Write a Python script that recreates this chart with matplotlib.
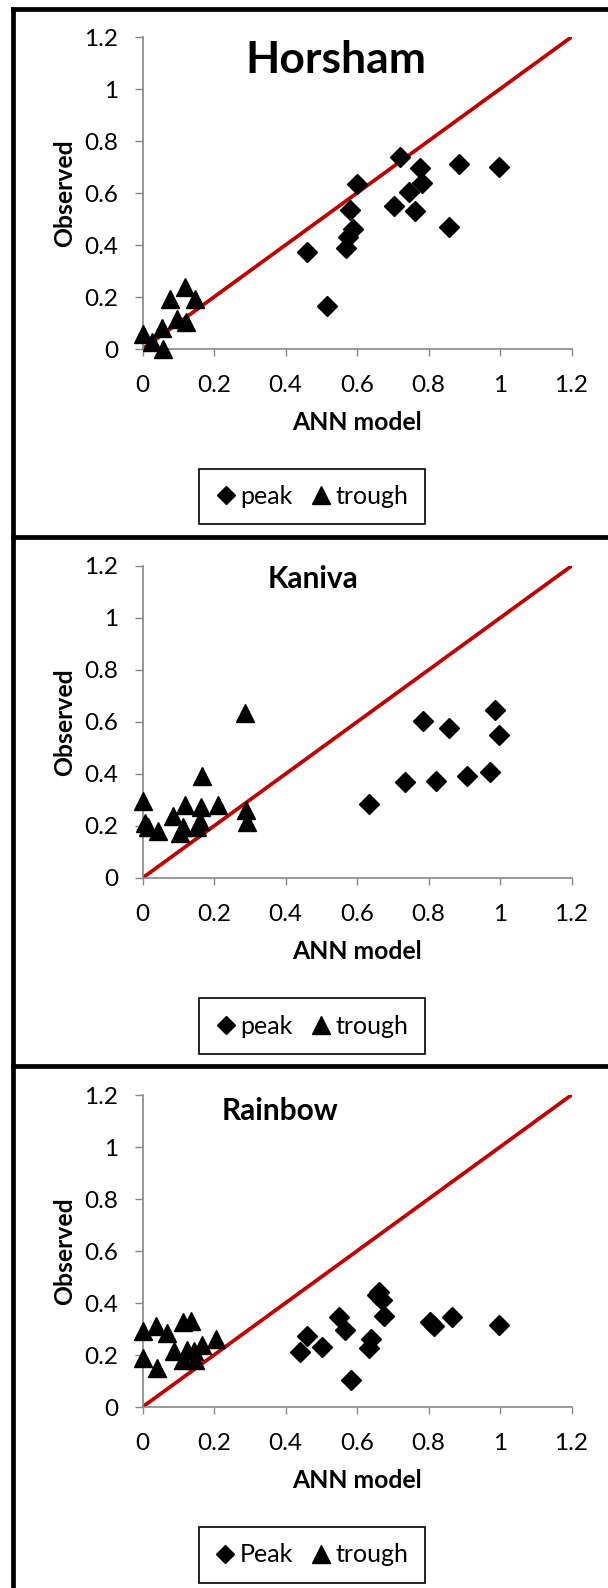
import matplotlib.pyplot as plt
from matplotlib.lines import Line2D

plt.rcParams['font.family'] = ['Lato', 'DejaVu Sans']

# Horsham
horsham_peak_x = [0.461, 0.517, 0.601, 0.580, 0.590, 0.576, 0.568, 0.720,
                  0.776, 0.781, 0.745, 0.704, 0.763, 0.884, 0.998, 0.858]
horsham_peak_y = [0.375, 0.164, 0.634, 0.534, 0.461, 0.432, 0.389, 0.738,
                  0.697, 0.640, 0.604, 0.551, 0.530, 0.710, 0.700, 0.468]
horsham_trough_x = [0.0, 0.026, 0.058, 0.054, 0.077, 0.119, 0.147, 0.097, 0.123]
horsham_trough_y = [0.058, 0.028, 0.0, 0.079, 0.194, 0.238, 0.194, 0.114, 0.105]

# Kaniva
kaniva_peak_x = [0.634, 0.734, 0.821, 0.909, 0.972, 0.784, 0.858, 0.998, 0.987]
kaniva_peak_y = [0.286, 0.370, 0.375, 0.391, 0.409, 0.605, 0.577, 0.551, 0.647]
kaniva_trough_x = [0.287, 0.167, 0.0, 0.007, 0.016, 0.044, 0.086, 0.119,
                   0.105, 0.114, 0.164, 0.161, 0.152, 0.212, 0.289, 0.291]
kaniva_trough_y = [0.636, 0.392, 0.295, 0.211, 0.198, 0.179, 0.237, 0.282,
                   0.173, 0.198, 0.274, 0.218, 0.198, 0.279, 0.263, 0.216]

# Rainbow
rainbow_peak_x = [0.441, 0.461, 0.503, 0.550, 0.566, 0.584, 0.639, 0.634,
                  0.662, 0.656, 0.676, 0.804, 0.816, 0.867, 0.998, 0.671]
rainbow_peak_y = [0.211, 0.274, 0.230, 0.346, 0.297, 0.104, 0.261, 0.227,
                  0.441, 0.430, 0.351, 0.326, 0.313, 0.346, 0.317, 0.413]
rainbow_trough_x = [0.002, 0.037, 0.068, 0.114, 0.135, 0.002, 0.041,
                    0.089, 0.114, 0.166, 0.205, 0.147, 0.124, 0.145]
rainbow_trough_y = [0.291, 0.310, 0.285, 0.326, 0.329, 0.188, 0.149,
                    0.214, 0.181, 0.239, 0.261, 0.181, 0.220, 0.214]

sites = ['Horsham', 'Kaniva', 'Rainbow']
peak_labels = ['peak', 'peak', 'Peak']
line_xy = [0, 1.2]
ticks = [0, 0.2, 0.4, 0.6, 0.8, 1, 1.2]
tick_labels = ['0', '0.2', '0.4', '0.6', '0.8', '1', '1.2']

peaks = [(horsham_peak_x, horsham_peak_y), (kaniva_peak_x, kaniva_peak_y),
         (rainbow_peak_x, rainbow_peak_y)]
troughs = [(horsham_trough_x, horsham_trough_y), (kaniva_trough_x, kaniva_trough_y),
           (rainbow_trough_x, rainbow_trough_y)]

W, H = 608, 1588
fig = plt.figure(figsize=(W / 100, H / 100), dpi=100)

# panel layout in pixels (axes top, title x/baseline, title size, legend centre y)
axes_top = [37, 566, 1095]
title_x = [336, 313.5, 280]
title_base = [72.7, 587.7, 1119.7]
title_size = [32, 21.5, 21.5]
legend_y = [496.5, 1026.2, 1554.8]

ax_left, ax_w, ax_h = 142.5, 429, 312
grey = '#868686'

for i in range(3):
    top = axes_top[i]
    ax = fig.add_axes([ax_left / W, 1 - (top + ax_h) / H, ax_w / W, ax_h / H])
    ax.plot(line_xy, line_xy, color='#C00000', linewidth=2.7, zorder=1)
    p = ax.plot(peaks[i][0], peaks[i][1], linestyle='none', marker='D',
                markersize=10, color='black', clip_on=False, zorder=3)[0]
    t = ax.plot(troughs[i][0], troughs[i][1], linestyle='none', marker='^',
                markersize=13.5, color='black', clip_on=False, zorder=3)[0]
    ax.set_xlim(0, 1.2)
    ax.set_ylim(0, 1.2)
    ax.set_xticks(ticks)
    ax.set_xticklabels(tick_labels)
    ax.set_yticks(ticks)
    ax.set_yticklabels(tick_labels)
    ax.spines['right'].set_visible(False)
    ax.spines['top'].set_visible(False)
    ax.spines['left'].set_color(grey)
    ax.spines['bottom'].set_color(grey)
    ax.spines['left'].set_linewidth(1.2)
    ax.spines['bottom'].set_linewidth(1.2)
    ax.tick_params(axis='x', direction='out', length=5, width=1, color=grey,
                   pad=14, labelsize=17.5)
    ax.tick_params(axis='y', direction='out', length=5.5, width=1, color=grey,
                   pad=12, labelsize=17.5)

    ax.set_xlabel('ANN model', fontsize=17.8, fontweight='bold')
    ax.xaxis.set_label_coords(0.5, -0.2)
    ax.set_ylabel('Observed', fontsize=17.8, fontweight='bold')
    ax.yaxis.set_label_coords(-0.155, 0.5)

    ax.text((title_x[i] - ax_left) / ax_w, (top + ax_h - title_base[i]) / ax_h,
            sites[i], transform=ax.transAxes, ha='center', va='baseline',
            fontsize=title_size[i], fontweight='bold')

    leg = fig.legend([p, t], [peak_labels[i], 'trough'], ncol=2,
                     loc='center', bbox_to_anchor=(312 / W, 1 - legend_y[i] / H),
                     fontsize=18, frameon=True, fancybox=False, framealpha=1,
                     edgecolor='black', handlelength=0.8, handletextpad=0.2,
                     columnspacing=0.7, borderpad=0.65, markerscale=0.95)
    leg.get_frame().set_linewidth(1.2)

# outer black borders and panel separators
for y in [9, 536.5, 1065.5]:
    fig.add_artist(Line2D([13 / W, 1], [1 - y / H, 1 - y / H], color='black',
                          linewidth=3.4, transform=fig.transFigure))
fig.add_artist(Line2D([13 / W, 13 / W], [0, 1 - 9 / H], color='black',
                      linewidth=3.4, transform=fig.transFigure))

plt.savefig('out.png', dpi=100)
